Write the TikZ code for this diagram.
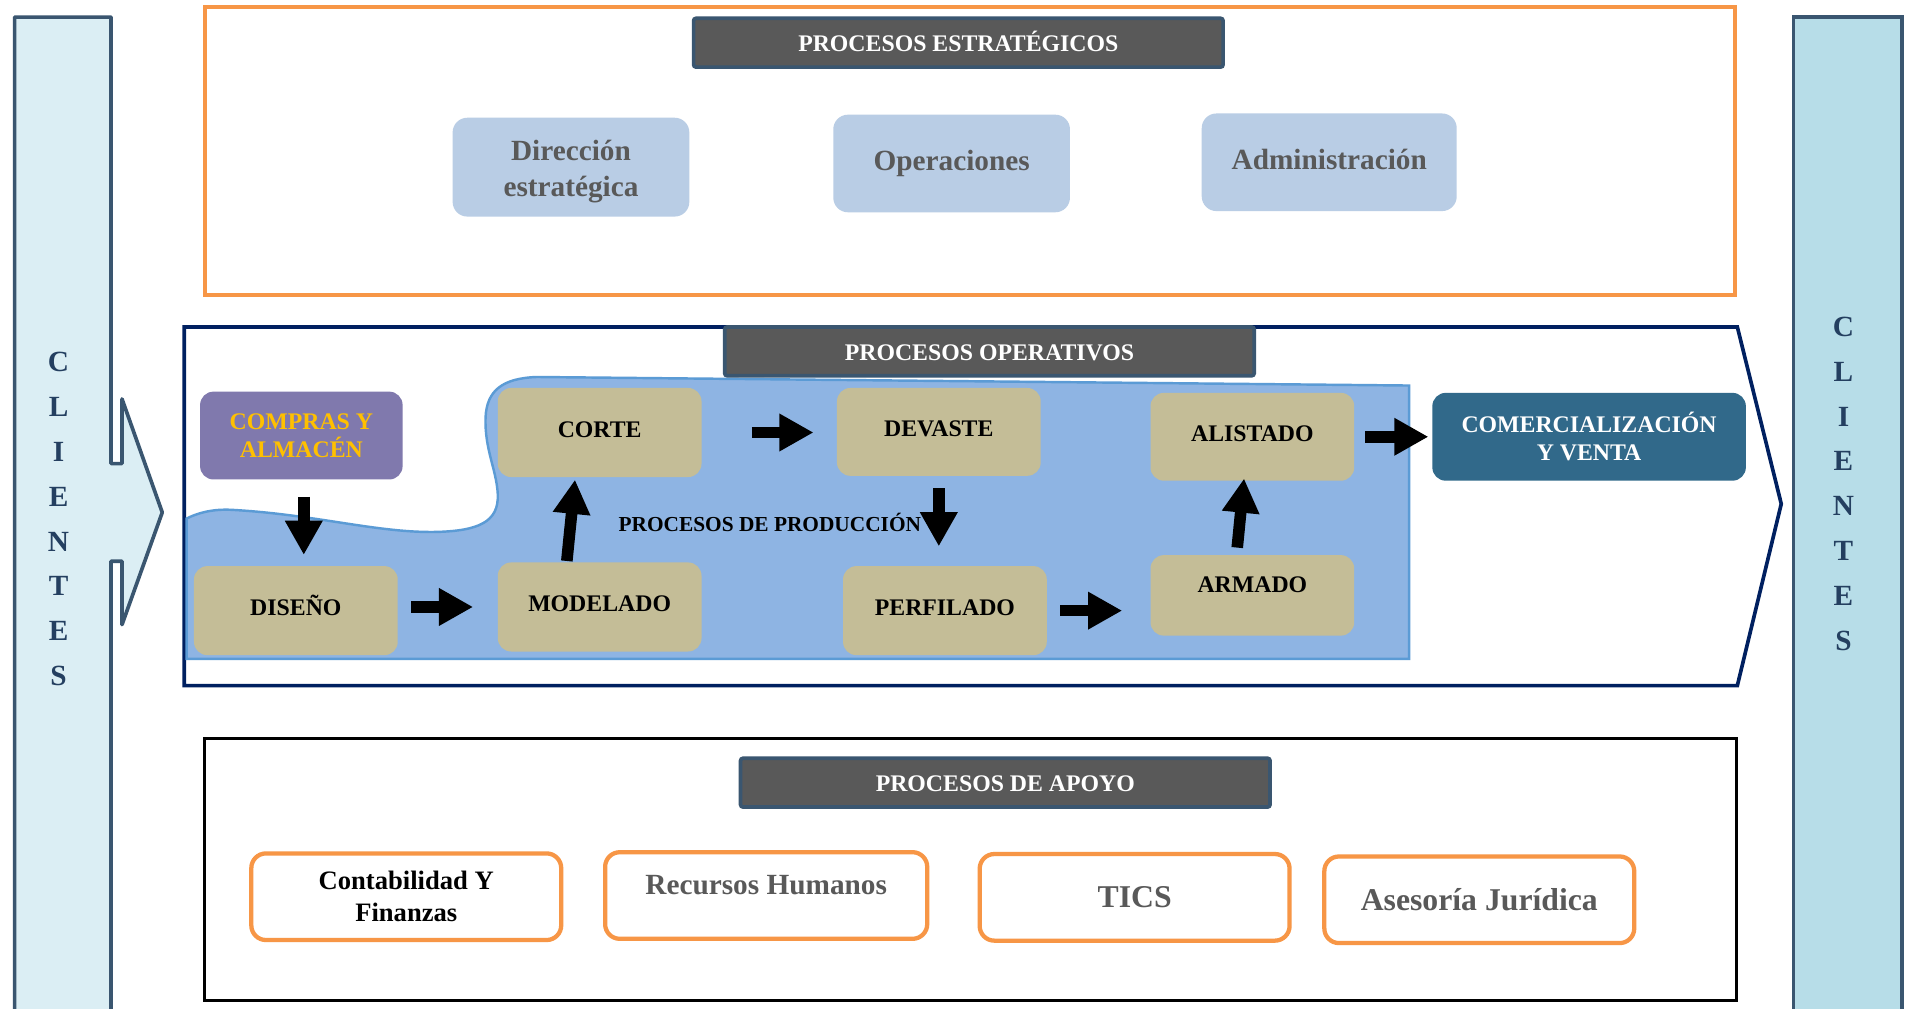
\documentclass[tikz,border=0pt]{standalone}
\usepackage{fontspec}
\setmainfont{Liberation Serif}
\usetikzlibrary{arrows.meta,calc}

\definecolor{barline}{HTML}{3A5670}
\definecolor{barleft}{HTML}{DBEEF4}
\definecolor{barright}{HTML}{B7DDE8}
\definecolor{clientes}{HTML}{243F60}
\definecolor{orangeline}{HTML}{F79646}
\definecolor{navyline}{HTML}{002060}
\definecolor{hdrfill}{HTML}{595959}
\definecolor{stratfill}{HTML}{B9CDE5}
\definecolor{graytext}{HTML}{595959}
\definecolor{prodfill}{HTML}{8EB4E3}
\definecolor{prodline}{HTML}{5B9BD5}
\definecolor{tanfill}{HTML}{C4BD97}
\definecolor{purplefill}{HTML}{8079AD}
\definecolor{goldtext}{HTML}{FFC000}
\definecolor{tealfill}{HTML}{31698A}

\begin{document}
\begin{tikzpicture}[x=1pt,y=-1pt,
  hdr/.style={draw=barline, line width=3pt, fill=hdrfill, text=white, rounded corners=2pt,
    minimum width=434pt, minimum height=40pt, inner sep=0pt, text height=14.9pt, text depth=0pt,
    font=\bfseries\fontsize{19.5}{22}\selectfont},
  strattext/.style={text=graytext, align=center, inner sep=0pt,
    font=\bfseries\fontsize{24}{29}\selectfont},
  strat/.style={strattext, fill=stratfill, rounded corners=12pt},
  stagebase/.style={fill=tanfill, rounded corners=11pt, minimum width=167pt, minimum height=73pt,
    inner sep=0pt, align=center, font=\bfseries\fontsize{19.5}{23}\selectfont},
  stage/.style={stagebase, text height=12.9pt, text depth=5.4pt},
  support/.style={draw=orangeline, line width=3.5pt, fill=white, rounded corners=12pt, inner sep=0pt,
    align=center, text=graytext, minimum width=254pt, minimum height=71pt},
  flow/.style={line width=9.5pt, -{Triangle[length=28pt,width=29pt]}},
  letters/.style={text=clientes, align=center, inner sep=0pt, font=\bfseries\fontsize{24}{36.7}\selectfont}
]
% page
\fill[white] (0,0) rectangle (1568,827);
\useasboundingbox (0,0) rectangle (1568,827);

% customer bars
\draw[barline, fill=barleft, line width=3pt, line join=round]
  (12,14) -- (91,14) -- (91,380) -- (100,380) -- (100,327) -- (133,420) -- (100,512)
  -- (100,460) -- (91,460) -- (91,845) -- (12,845) -- cycle;
\draw[barline, fill=barright, line width=3pt] (1470,14) rectangle (1559,845);
\node[letters] (clientesL) at (48,425.5) {C\\L\\I\\E\\N\\T\\E\\S};
\node[letters] (clientesR) at (1511,396.5) {C\\L\\I\\E\\N\\T\\E\\S};

% strategic processes
\draw[orangeline, line width=3.5pt] (168,6) rectangle (1422,242);
\node[hdr] (hstrat) at (785.5,35) {PROCESOS ESTRATÉGICOS};
\node[strat, minimum width=194pt, minimum height=81pt] (dir) at (468,137) {};
\node[strattext] (dirtext) at (dir.center) [yshift=-3.5pt] {Dirección\\estratégica};
\node[strat, minimum width=194pt, minimum height=80pt] (ope) at (780,134) {Operaciones};
\node[strat, minimum width=209pt, minimum height=80pt, text height=15.9pt, text depth=4pt] (adm) at (1089.5,133) {Administración};

% operative processes
\draw[navyline, line width=3pt] (151,268) -- (1424,268) -- (1460,413) -- (1424,562) -- (151,562) -- cycle;
\draw[prodline, fill=prodfill, line width=2pt]
  (153,540) -- (153,425)
  .. controls (165,419) and (178,417) .. (192,418)
  .. controls (260,422) and (310,437) .. (358,436)
  .. controls (392,435) and (409,428) .. (408,405)
  .. controls (407,385) and (397,368) .. (398,342)
  .. controls (399,320) and (412,310) .. (440,309)
  -- (1155,316) -- (1155,540) -- cycle;
\node[hdr] (hop) at (811,288) {PROCESOS OPERATIVOS};

\node[stagebase, fill=purplefill, text=goldtext, minimum width=166pt, minimum height=72pt] (compras) at (247,357) {COMPRAS Y\\ALMACÉN};
\node[stage] (diseno) at (242.5,500.5) {DISEÑO};
\node[stage] (corte) at (491.5,354.5) {CORTE};
\node[stage] (modelado) at (491.5,497.5) {MODELADO};
\node[stage, minimum height=72pt] (devaste) at (769.5,354) {DEVASTE};
\node[stage] (perfilado) at (774.5,500.5) {PERFILADO};
\node[stage, minimum height=72pt] (alistado) at (1026.5,358) {ALISTADO};
\node[stage, minimum height=66pt, text depth=18pt] (armado) at (1026.5,488) {ARMADO};
\node[stagebase, fill=tealfill, text=white, minimum width=257pt, minimum height=72pt] (comer) at (1302.5,358) {COMERCIALIZACIÓN\\Y VENTA};
\node[inner sep=0pt, text height=11.6pt, text depth=0pt, font=\bfseries\fontsize{17.5}{20}\selectfont] (prodlabel) at (631,430) {PROCESOS DE PRODUCCIÓN};

\draw[flow, shorten <=14pt, shorten >=9pt] ($(compras.south)+(2,0)$) -- ($(diseno.north)+(6.5,0)$);
\draw[flow, shorten <=11pt, shorten >=20pt] (diseno.east |- modelado.west) -- (modelado.west);
\draw[flow, shorten <=1pt, shorten >=2pt] ($(modelado.north)+(-27,0)$) -- ($(corte.south)+(-20,0)$);
\draw[flow, shorten <=41pt, shorten >=19pt] (corte.east) -- (corte.east -| devaste.west);
\draw[flow, shorten <=10pt, shorten >=16pt] (devaste.south) -- (devaste.south |- perfilado.north);
\draw[flow, shorten <=11pt, shorten >=23pt] (perfilado.east) -- (perfilado.east -| armado.west);
\draw[flow, shorten <=6pt, shorten >=-2pt] ($(armado.north)+(-13,0)$) -- ($(alistado.south)+(-7,0)$);
\draw[flow, shorten <=9pt, shorten >=3pt] (alistado.east) -- (comer.west);

% support processes
\draw[black, line width=2.5pt] (168,605) rectangle (1423,820);
\node[hdr] (hapo) at (824,641.5) {PROCESOS DE APOYO};
\node[support, text=black, font=\bfseries\fontsize{21.8}{26}\selectfont] (conta) at (333,735) {Contabilidad Y\\Finanzas};
\node[support, minimum width=264pt, text height=15.9pt, text depth=17pt, font=\bfseries\fontsize{24}{28}\selectfont] (rrhh) at (628,734) {Recursos Humanos};
\node[support, font=\bfseries\fontsize{26}{30}\selectfont] (tics) at (930,735.5) {TICS};
\node[support, font=\bfseries\fontsize{26}{30}\selectfont] (ases) at (1212.5,737.5) {Asesoría Jurídica};
\end{tikzpicture}
\end{document}
